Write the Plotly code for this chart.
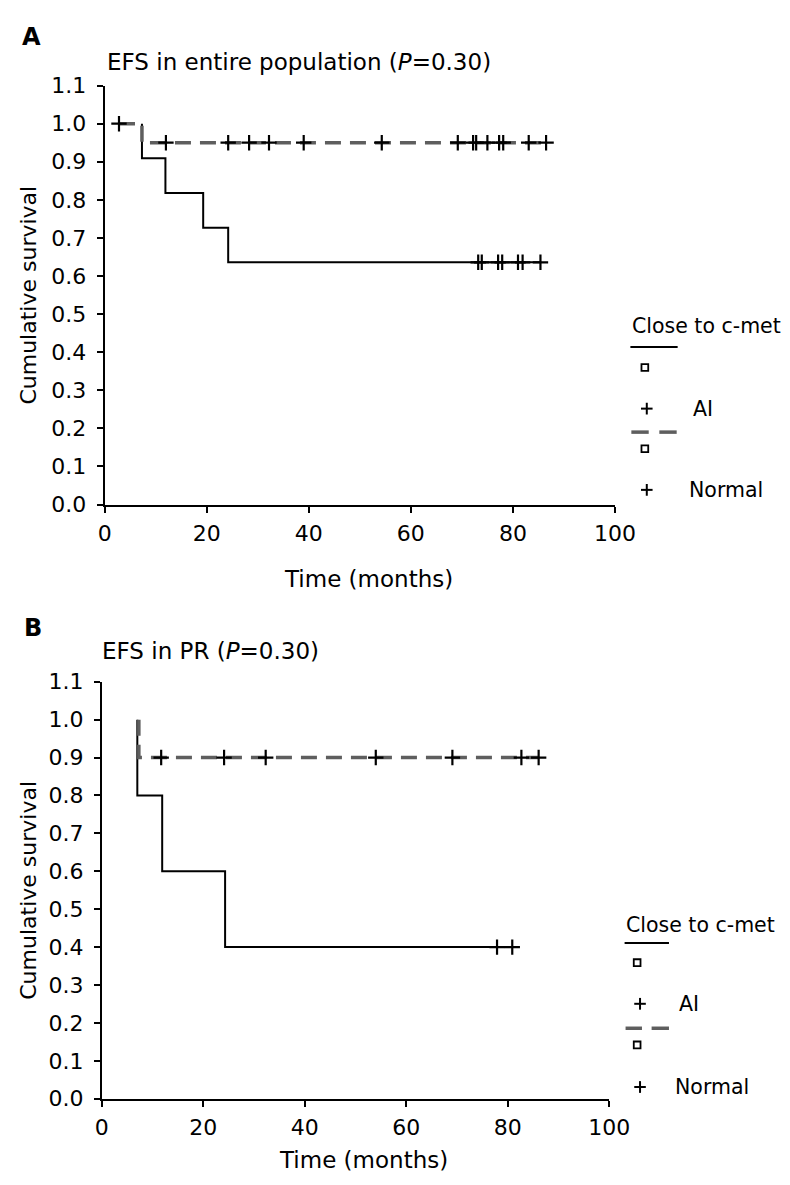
import plotly.graph_objects as go

W, H = 790, 1185

# ---------------- data ----------------
# Panel A: EFS in entire population
a_ai_t = [7.3, 7.3, 11.9, 19.3, 24.2, 85.4]
a_ai_s = [1.0, 0.909, 0.818, 0.727, 0.636, 0.636]
a_ai_cens_t = [73.2, 73.9, 77.1, 77.9, 81.0, 81.9, 85.4]
a_ai_cens_s = [0.636] * len(a_ai_cens_t)

a_norm_t = [2.8, 7.3, 86.5]
a_norm_s = [1.0, 0.95, 0.95]
a_norm_cens_t = [2.8, 12.0, 24.2, 28.3, 32.2, 39.0, 54.3, 69.2, 72.2, 72.8,
                 75.0, 77.3, 78.1, 83.1, 86.5]
a_norm_cens_s = [1.0] + [0.95] * 14

# Panel B: EFS in PR
b_ai_t = [7.0, 7.0, 11.9, 24.3, 80.9]
b_ai_s = [1.0, 0.8, 0.6, 0.4, 0.4]
b_ai_cens_t = [77.9, 80.9]
b_ai_cens_s = [0.4, 0.4]

b_norm_t = [7.3, 7.3, 86.1]
b_norm_s = [1.0, 0.9, 0.9]
b_norm_cens_t = [11.7, 24.1, 32.3, 54.0, 69.1, 82.7, 86.1]
b_norm_cens_s = [0.9] * 7

x_ticks = [0, 20, 40, 60, 80, 100]
y_ticks = [round(0.1 * i, 1) for i in range(12)]
y_ticktext = [f"{v:.1f}" for v in y_ticks]

titles = ["EFS in entire population (<i>P</i>=0.30)", "EFS in PR (<i>P</i>=0.30)"]
panel_letters = ["A", "B"]
legend_title = "Close to c-met"
group_names = ["AI", "Normal"]

FONT = "DejaVu Sans, Liberation Sans, Arial, sans-serif"
DASH_COLOR = "#5e5e5e"


def px(x):
    return x / W


def py(y):
    return 1 - y / H


fig = go.Figure()

# pixel geometry of the two panels: (x at 0, x at 100, y at 0.0, y at 1.1)
panels = [
    dict(x0=93, x1=622, y0=495, y1=67),
    dict(x0=90, x1=616, y0=1102, y1=676),
]

data = [
    (a_ai_t, a_ai_s, a_ai_cens_t, a_ai_cens_s, a_norm_t, a_norm_s, a_norm_cens_t, a_norm_cens_s),
    (b_ai_t, b_ai_s, b_ai_cens_t, b_ai_cens_s, b_norm_t, b_norm_s, b_norm_cens_t, b_norm_cens_s),
]

for i, (p, d) in enumerate(zip(panels, data)):
    xa = "x" if i == 0 else "x2"
    ya = "y" if i == 0 else "y2"
    ai_t, ai_s, ai_ct, ai_cs, n_t, n_s, n_ct, n_cs = d
    fig.add_trace(go.Scatter(x=ai_t, y=ai_s, mode="lines", line=dict(color="black", width=2, shape="hv"),
                             xaxis=xa, yaxis=ya, showlegend=False, hoverinfo="skip"))
    fig.add_trace(go.Scatter(x=n_t, y=n_s, mode="lines",
                             line=dict(color=DASH_COLOR, width=3.5, shape="hv", dash="16px,9px"),
                             xaxis=xa, yaxis=ya, showlegend=False, hoverinfo="skip"))
    for ct, cs in ((ai_ct, ai_cs), (n_ct, n_cs)):
        fig.add_trace(go.Scatter(x=ct, y=cs, mode="markers",
                                 marker=dict(symbol="cross-thin", size=11, line=dict(color="black", width=2.2)),
                                 xaxis=xa, yaxis=ya, showlegend=False, hoverinfo="skip"))

axis_common = dict(showgrid=False, zeroline=False, showline=True, linecolor="black", linewidth=2,
                   ticks="outside", ticklen=6, tickwidth=2, tickcolor="black",
                   tickfont=dict(family=FONT, size=22, color="black"))

for i, p in enumerate(panels):
    xk = "xaxis" if i == 0 else "xaxis2"
    yk = "yaxis" if i == 0 else "yaxis2"
    fig.layout[xk] = dict(axis_common, domain=[px(p["x0"]), px(p["x1"])], range=[0, 100],
                          tickvals=x_ticks, anchor="y" if i == 0 else "y2", ticklabelstandoff=2)
    fig.layout[yk] = dict(axis_common, domain=[py(p["y0"]), py(p["y1"])], range=[0, 1.1],
                          tickvals=y_ticks, ticktext=y_ticktext, anchor="x" if i == 0 else "x2",
                          ticklabelstandoff=6)

annotations = []
shapes = []


def text(x, y, s, size=22, anchor="left", bold=False, angle=0):
    annotations.append(dict(x=px(x), y=py(y), xref="paper", yref="paper", text=("<b>%s</b>" % s) if bold else s,
                            showarrow=False, xanchor=anchor, yanchor="middle", textangle=angle,
                            font=dict(family=FONT, size=size, color="black")))


def hline(x0, x1, y, color="black", width=2):
    shapes.append(dict(type="line", xref="paper", yref="paper", x0=px(x0), x1=px(x1), y0=py(y), y1=py(y),
                       line=dict(color=color, width=width)))


def square(cx, cy, s=7):
    shapes.append(dict(type="rect", xref="paper", yref="paper", x0=px(cx - s / 2), x1=px(cx + s / 2),
                       y0=py(cy + s / 2), y1=py(cy - s / 2), line=dict(color="black", width=1.8)))


def plus(cx, cy, s=12):
    hline(cx - s / 2, cx + s / 2, cy, width=2)
    shapes.append(dict(type="line", xref="paper", yref="paper", x0=px(cx), x1=px(cx), y0=py(cy - s / 2),
                       y1=py(cy + s / 2), line=dict(color="black", width=2)))


# panel letters & titles
text(5, 17, panel_letters[0], size=24, bold=True)
text(93, 43, titles[0], size=23)
text(7, 621, panel_letters[1], size=24, bold=True)
text(88, 645, titles[1], size=23)

# axis titles
text(367, 571, "Time (months)", size=23, anchor="center")
text(361, 1165, "Time (months)", size=23, anchor="center")
text(14, 281, "Cumulative survival", size=22, anchor="center", angle=-90)
text(14, 889, "Cumulative survival", size=22, anchor="center", angle=-90)

# legends
legs = [
    dict(tx=638, ty=313, lx0=638, lx1=687, ly=334, sqx=653, sq1=355, plx=655, pl1=397, ai_x=701,
         d1=(639, 657), d2=(668, 686), dy=421, sq2=438, pl2=480, norm_x=697),
    dict(tx=631, ty=925, lx0=632, lx1=678, ly=943, sqx=645, sq1=963, plx=648, pl1=1005, ai_x=686,
         d1=(633, 650), d2=(660, 678), dy=1030, sq2=1047, pl2=1090, norm_x=682),
]
for L in legs:
    text(L["tx"], L["ty"], legend_title, size=20.5)
    hline(L["lx0"], L["lx1"], L["ly"], width=2)
    square(L["sqx"], L["sq1"])
    plus(L["plx"], L["pl1"])
    text(L["ai_x"], L["pl1"], group_names[0], size=20.5)
    hline(L["d1"][0], L["d1"][1], L["dy"], color=DASH_COLOR, width=3.5)
    hline(L["d2"][0], L["d2"][1], L["dy"], color=DASH_COLOR, width=3.5)
    square(L["sqx"], L["sq2"])
    plus(L["plx"], L["pl2"])
    text(L["norm_x"], L["pl2"], group_names[1], size=20.5)

fig.update_layout(width=W, height=H, margin=dict(l=0, r=0, t=0, b=0),
                  paper_bgcolor="white", plot_bgcolor="white",
                  annotations=annotations, shapes=shapes, showlegend=False)

fig.write_html("out.html")
